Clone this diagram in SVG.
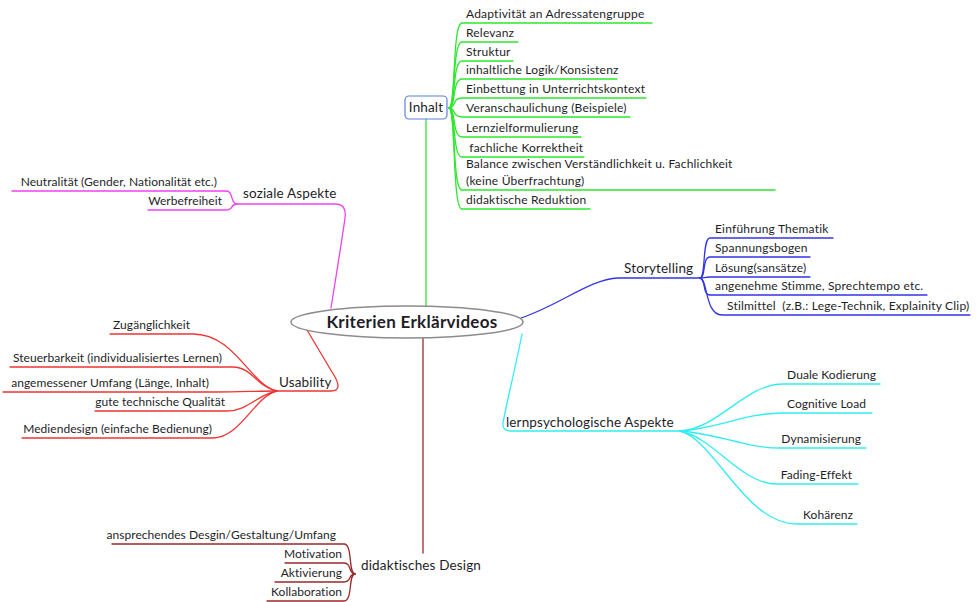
<svg xmlns="http://www.w3.org/2000/svg" width="976" height="602" viewBox="0 0 976 602">
  <style>
    text { font-family: Lato, "Open Sans", "Liberation Sans", sans-serif; fill: #1e1e28; }
    .leaf { font-size: 12px; letter-spacing: 0.2px; }
    .end { text-anchor: end; letter-spacing: 0.05px; }
    .main { font-size: 13.5px; letter-spacing: 0.15px; }
    .root { font-size: 17px; font-weight: bold; letter-spacing: 0.3px; }
    .ln { fill: none; stroke-width: 1.3; stroke-linecap: round; }
    .green { stroke: #2ee82e; }
    .magenta { stroke: #f040f0; }
    .blue { stroke: #3535e8; }
    .cyan { stroke: #30eef0; }
    .red { stroke: #f03535; }
    .brown { stroke: #9a2a2a; }
  </style>
  <rect width="976" height="602" fill="#ffffff"/>

  <!-- connectors -->
  <g id="connectors">
    <!-- root to main topics -->
    <path class="ln green" d="M426,306 L426,119"/>
    <path class="ln magenta" d="M331,308 C337,270 342,240 345,218 Q347,204 335,204 L237,204"/>
    <path class="ln blue" d="M521,318 C560,305 590,279 618,278 L700,278"/>
    <path class="ln cyan" d="M522,334 C515,370 506,405 503,423 Q502,431 511,431 L680,431"/>
    <path class="ln red" d="M307,330 L332,372 Q338,381 338,386 Q338,391 331,391 L277,391"/>
    <path class="ln brown" d="M423,338 L423,553"/>

    <!-- Inhalt children -->
    <g class="ln green">
      <path d="M449,108 C456,108 452,23 462,23 L652,23"/>
      <path d="M449,108 C456,108 452,42 462,42 L518,42"/>
      <path d="M449,108 C456,108 452,61 462,61 L513,61"/>
      <path d="M449,108 C456,108 452,79 462,79 L617,79"/>
      <path d="M449,108 C456,108 452,98 462,98 L646,98"/>
      <path d="M449,108 C456,108 452,117 462,117 L630,117"/>
      <path d="M449,108 C456,108 452,137 462,137 L581,137"/>
      <path d="M449,108 C456,108 452,157 462,157 L584,157"/>
      <path d="M449,108 C456,108 452,190 462,190 L775,190"/>
      <path d="M449,108 C456,108 452,209 462,209 L590,209"/>
    </g>

    <!-- soziale Aspekte children -->
    <g class="ln magenta">
      <path d="M237,204 C230,204 234,191 226,191 L12,191"/>
      <path d="M237,204 C230,204 234,210 226,210 L148,210"/>
    </g>

    <!-- Storytelling children -->
    <g class="ln blue">
      <path d="M700,278 C706,278 702,238 710,238 L833,238"/>
      <path d="M700,278 C706,278 702,257 710,257 L810,257"/>
      <path d="M700,278 C705,278 704,277 710,277 L810,277"/>
      <path d="M700,278 C706,278 702,295 710,295 L927,295"/>
      <path d="M700,278 C708,280 705,315 722,315 L970,315"/>
    </g>

    <!-- lernpsychologische Aspekte children -->
    <g class="ln cyan">
      <path d="M680,431 C720,428 745,384 783,384 L880,384"/>
      <path d="M680,431 C720,428 745,413 783,413 L872,413"/>
      <path d="M680,431 C720,434 745,448 780,448 L866,448"/>
      <path d="M680,431 C715,438 740,484 777,484 L858,484"/>
      <path d="M680,431 C715,440 745,524 797,524 L857,524"/>
    </g>

    <!-- Usability children -->
    <g class="ln red">
      <path d="M277,391 C250,385 235,334 193,334 L110,334"/>
      <path d="M277,391 C258,388 252,367 233,367 L10,367"/>
      <path d="M277,391 C258,391 240,392 215,392 L3,392"/>
      <path d="M277,391 C258,394 248,411 227,411 L95,411"/>
      <path d="M277,391 C255,396 240,438 213,438 L22,438"/>
    </g>

    <!-- didaktisches Design children -->
    <g class="ln brown">
      <path d="M355,574 C348,574 353,544 344,544 L112,544"/>
      <path d="M355,574 C348,574 352,563 344,563 L285,563"/>
      <path d="M355,574 C348,574 352,582 344,582 L275,582"/>
      <path d="M355,574 C348,574 353,601 344,601 L267,601"/>
    </g>
  </g>

  <!-- central topic -->
  <g id="root">
    <ellipse cx="407" cy="322" rx="116" ry="16" fill="#ffffff" stroke="#8c8c8c" stroke-width="1.5"/>
    <text class="root" x="412" y="328" text-anchor="middle">Kriterien Erklärvideos</text>
  </g>

  <!-- Inhalt -->
  <g id="inhalt">
    <rect x="405" y="96" width="42" height="23" rx="4" fill="#ffffff" stroke="#5b82e0" stroke-width="1.2"/>
    <text class="main" x="426" y="112" text-anchor="middle">Inhalt</text>
  </g>
  <g id="inhalt-items">
    <text class="leaf" x="466" y="18">Adaptivität an Adressatengruppe</text>
    <text class="leaf" x="466" y="37">Relevanz</text>
    <text class="leaf" x="466" y="56">Struktur</text>
    <text class="leaf" x="466" y="74">inhaltliche Logik/Konsistenz</text>
    <text class="leaf" x="466" y="93">Einbettung in Unterrichtskontext</text>
    <text class="leaf" x="466" y="112">Veranschaulichung (Beispiele)</text>
    <text class="leaf" x="466" y="132">Lernzielformulierung</text>
    <text class="leaf" x="466" y="152" xml:space="preserve"> fachliche Korrektheit</text>
    <text class="leaf" x="466" y="168">Balance zwischen Verständlichkeit u. Fachlichkeit</text>
    <text class="leaf" x="466" y="185">(keine Überfrachtung)</text>
    <text class="leaf" x="466" y="204">didaktische Reduktion</text>
  </g>

  <!-- soziale Aspekte -->
  <g id="soziale-aspekte">
    <text class="main" x="243" y="198">soziale Aspekte</text>
    <text class="leaf end" x="217" y="186">Neutralität (Gender, Nationalität etc.)</text>
    <text class="leaf end" x="222" y="205">Werbefreiheit</text>
  </g>

  <!-- Storytelling -->
  <g id="storytelling">
    <text class="main" x="624" y="273">Storytelling</text>
    <text class="leaf" x="715" y="233">Einführung Thematik</text>
    <text class="leaf" x="715" y="252">Spannungsbogen</text>
    <text class="leaf" x="715" y="272">Lösung(sansätze)</text>
    <text class="leaf" x="715" y="290">angenehme Stimme, Sprechtempo etc.</text>
    <text class="leaf" x="727" y="310" xml:space="preserve">Stilmittel  (z.B.: Lege-Technik, Explainity Clip)</text>
  </g>

  <!-- lernpsychologische Aspekte -->
  <g id="lernpsychologische-aspekte">
    <text class="main" x="506" y="427">lernpsychologische Aspekte</text>
    <text class="leaf end" x="876" y="379">Duale Kodierung</text>
    <text class="leaf end" x="866" y="408">Cognitive Load</text>
    <text class="leaf end" x="861" y="443">Dynamisierung</text>
    <text class="leaf end" x="852" y="479">Fading-Effekt</text>
    <text class="leaf end" x="853" y="519">Kohärenz</text>
  </g>

  <!-- Usability -->
  <g id="usability">
    <text class="main" x="279" y="387">Usability</text>
    <text class="leaf end" x="190" y="329">Zugänglichkeit</text>
    <text class="leaf end" x="222" y="362">Steuerbarkeit (individualisiertes Lernen)</text>
    <text class="leaf end" x="209" y="387">angemessener Umfang (Länge, Inhalt)</text>
    <text class="leaf end" x="225" y="406">gute technische Qualität</text>
    <text class="leaf end" x="212" y="433">Mediendesign (einfache Bedienung)</text>
  </g>

  <!-- didaktisches Design -->
  <g id="didaktisches-design">
    <text class="main" x="361" y="570">didaktisches Design</text>
    <text class="leaf end" x="336" y="539">ansprechendes Desgin/Gestaltung/Umfang</text>
    <text class="leaf end" x="342" y="558">Motivation</text>
    <text class="leaf end" x="342" y="577">Aktivierung</text>
    <text class="leaf end" x="342" y="596">Kollaboration</text>
  </g>
</svg>
